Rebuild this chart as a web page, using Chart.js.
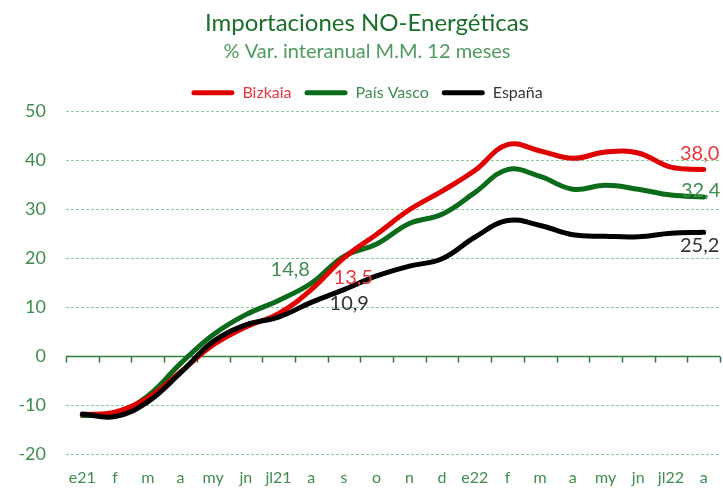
<!DOCTYPE html>
<html>
<head>
<meta charset="utf-8">
<script src="https://cdn.jsdelivr.net/npm/chart.js@4.4.1/dist/chart.umd.min.js"></script>
<style>
html,body{margin:0;padding:0;background:#fff;}
#wrap{width:723px;height:490px;}
</style>
</head>
<body>
<div id="wrap"><canvas id="c" width="723" height="490"></canvas></div>
<script>
const categories = ["e21","f","m","a","my","jn","jl21","a","s","o","n","d","e22","f","m","a","my","jn","jl22","a"];
const bizkaia  = [-12.0,-11.5,-8.6,-3.3,2.2,5.9,8.6,13.5,20.0,24.8,29.8,33.6,37.8,43.1,41.8,40.3,41.6,41.4,38.5,38.0];
const paisVasco= [-12.2,-11.8,-8.2,-1.6,4.3,8.4,11.3,14.8,20.3,22.8,27.0,28.9,33.3,38.0,36.6,34.0,34.8,34.0,32.8,32.4];
const espana   = [-11.9,-12.4,-9.4,-3.5,2.9,6.3,7.9,10.9,13.5,16.3,18.3,19.8,24.2,27.6,26.6,24.7,24.4,24.3,25.0,25.2];
const yTicks = [50,40,30,20,10,0,-10,-20];

const GREEN_TXT = '#3f8c4f';
const FONT = 'Lato, "Open Sans", sans-serif';

const gridPlugin = {
  id: 'customGrid',
  beforeDatasetsDraw(chart) {
    const {ctx, chartArea, scales} = chart;
    const n = categories.length;
    const w = (chartArea.right - chartArea.left) / n;
    ctx.save();
    ctx.strokeStyle = '#8cc79a';
    ctx.lineWidth = 1;
    ctx.setLineDash([3, 2]);
    yTicks.forEach(v => {
      if (v === 0) return;
      const y = Math.round(scales.y.getPixelForValue(v)) + 0.5;
      ctx.beginPath();
      ctx.moveTo(chartArea.left, y);
      ctx.lineTo(chartArea.right, y);
      ctx.stroke();
    });
    ctx.setLineDash([]);
    const y0 = Math.round(scales.y.getPixelForValue(0)) + 0.5;
    ctx.strokeStyle = '#2e7d3a';
    ctx.lineWidth = 1.5;
    ctx.beginPath();
    ctx.moveTo(chartArea.left, y0);
    ctx.lineTo(chartArea.right, y0);
    for (let i = 0; i <= n; i++) {
      const x = Math.round(chartArea.left + i * w) + 0.5;
      ctx.moveTo(x, y0);
      ctx.lineTo(x, y0 + 6);
    }
    ctx.stroke();
    ctx.restore();
  }
};

const labelPlugin = {
  id: 'valueLabels',
  afterDatasetsDraw(chart) {
    const {ctx, scales} = chart;
    const specs = [
      {ds: 1, idx: 7, dx: -21, dy: -14, color: '#3f8c4f'},
      {ds: 0, idx: 7, dx: 42, dy: -12, color: '#e8383d'},
      {ds: 2, idx: 7, dx: 38, dy: 1, color: '#333333'},
      {ds: 0, idx: 19, dx: -4, dy: -16, color: '#e8383d'},
      {ds: 1, idx: 19, dx: -3, dy: -6, color: '#3f8c4f'},
      {ds: 2, idx: 19, dx: -4, dy: 13, color: '#333333'}
    ];
    ctx.save();
    ctx.font = '20px ' + FONT;
    ctx.textAlign = 'center';
    ctx.textBaseline = 'middle';
    specs.forEach(s => {
      const v = chart.data.datasets[s.ds].data[s.idx];
      const x = scales.x.getPixelForValue(s.idx);
      const y = scales.y.getPixelForValue(v);
      ctx.fillStyle = s.color;
      ctx.fillText(v.toFixed(1).replace('.', ','), x + s.dx, y + s.dy);
    });
    ctx.restore();
  }
};

const legendColors = ['#e8383d', '#3f8c4f', '#333333'];

new Chart(document.getElementById('c'), {
  type: 'line',
  data: {
    labels: categories,
    datasets: [
      {label: 'Bizkaia', data: bizkaia, borderColor: '#e00000', backgroundColor: '#e00000', order: 1},
      {label: 'País Vasco', data: paisVasco, borderColor: '#0a6b1a', backgroundColor: '#0a6b1a', order: 2},
      {label: 'España', data: espana, borderColor: '#000000', backgroundColor: '#000000', order: 0}
    ]
  },
  options: {
    responsive: false,
    animation: false,
    layout: {padding: {left: 14, right: 3, top: 7, bottom: -11}},
    elements: {
      line: {borderWidth: 5, tension: 0.4, borderCapStyle: 'round', borderJoinStyle: 'round', fill: false},
      point: {radius: 0}
    },
    plugins: {
      title: {
        display: true,
        text: 'Importaciones NO-Energéticas',
        color: '#1b6f2c',
        font: {family: FONT, size: 24, weight: 'normal'},
        padding: {top: 2, bottom: 2}
      },
      subtitle: {
        display: true,
        text: '% Var. interanual M.M. 12 meses',
        color: '#4f9a5f',
        font: {family: FONT, size: 20, weight: 'normal'},
        padding: {top: 0, bottom: 8}
      },
      legend: {
        display: true,
        labels: {
          boxWidth: 43,
          boxHeight: 5,
          useBorderRadius: true,
          borderRadius: 2.5,
          padding: 13,
          font: {family: FONT, size: 16},
          sort: (a, b) => a.datasetIndex - b.datasetIndex,
          generateLabels(chart) {
            return chart.data.datasets.map((d, i) => ({
              text: d.label,
              fillStyle: d.borderColor,
              strokeStyle: d.borderColor,
              lineWidth: 0,
              fontColor: legendColors[i],
              borderRadius: 2.5,
              datasetIndex: i,
              hidden: false
            }));
          }
        }
      },
      tooltip: {enabled: false}
    },
    scales: {
      x: {
        offset: true,
        grid: {display: false, drawTicks: false},
        border: {display: false},
        ticks: {color: GREEN_TXT, font: {family: FONT, size: 16}, padding: 14, maxRotation: 0, autoSkip: false}
      },
      y: {
        min: -20,
        max: 50,
        afterBuildTicks(scale) { scale.ticks = yTicks.map(v => ({value: v})); },
        afterFit(scale) { scale.width = 52; },
        grid: {display: false, drawTicks: false},
        border: {display: false},
        ticks: {color: GREEN_TXT, font: {family: FONT, size: 18}, padding: 20}
      }
    }
  },
  plugins: [gridPlugin, labelPlugin]
});
</script>
</body>
</html>
